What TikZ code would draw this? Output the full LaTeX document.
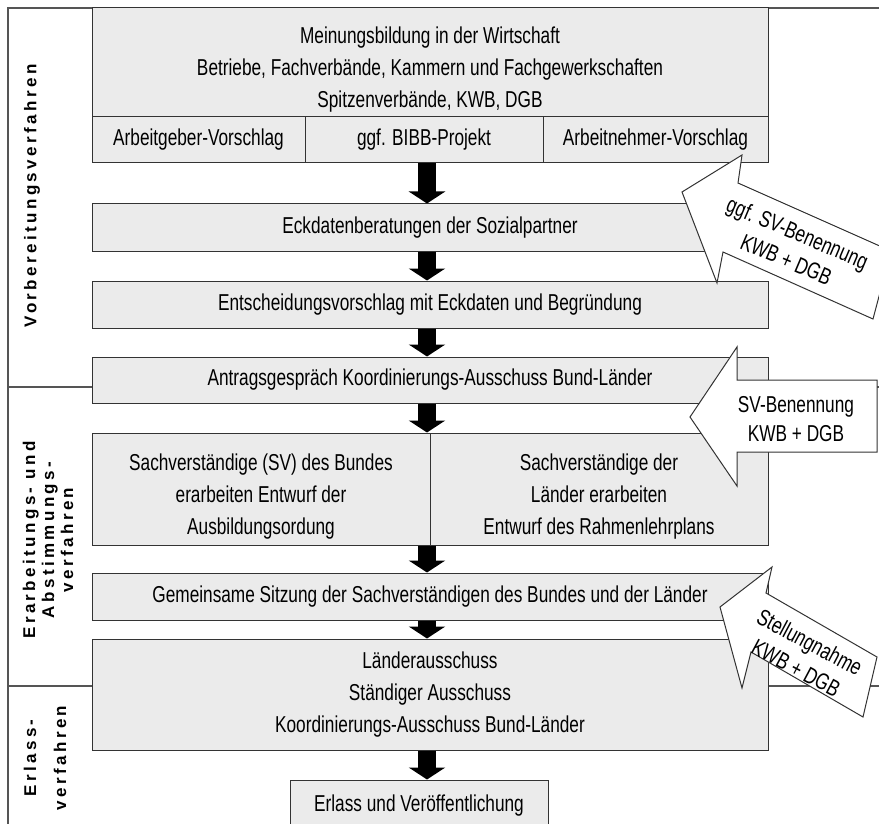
\documentclass[tikz,border=0pt]{standalone}
\usepackage{fontspec}
\setmainfont{Liberation Sans}[FakeStretch=0.75]
\newfontfamily\lblfont{Liberation Sans}[LetterSpace=20]
\usetikzlibrary{arrows.meta}
\definecolor{boxfill}{HTML}{EBEBEB}
\definecolor{boxline}{HTML}{333333}
\definecolor{frameline}{HTML}{555555}
\newcommand{\topstrut}[1]{\rule{0pt}{#1}}
\begin{document}
\begin{tikzpicture}[x=1pt,y=-1pt,
  box/.style={draw=boxline,fill=boxfill,line width=1pt,inner sep=0pt,align=center,
    font=\fontsize{23}{32}\selectfont},
  lbl/.style={font=\lblfont\bfseries\fontsize{17}{19}\selectfont,rotate=90,align=center,inner sep=0pt},
  blk/.style={line width=18pt,draw=black,-{Triangle[width=36pt,length=12pt]}},
  callarr/.style={draw=boxline,fill=white,line width=1pt,line join=miter},
  calltxt/.style={align=center,inner sep=0pt,font=\fontsize{23}{29}\selectfont},
  frame/.style={draw=frameline,line width=1.2pt}]
\useasboundingbox (0,0) rectangle (879,824);
\clip (0,0) rectangle (879,824);
% frame
\draw[frame] (8,830) -- (8,8) -- (879,8);
\draw[frame] (8,387) -- (879,387);
\draw[frame] (8,686) -- (879,686);
% left labels
\node[lbl] (l1) at (32,196) {Vorbereitungsverfahren};
\node[lbl] (l2) at (48,540) {Erarbeitungs- und\\Abstimmungs-\\verfahren};
\node[lbl,font=\lblfont\bfseries\fontsize{17}{30}\selectfont] (l3) at (45,758) {Erlass-\\verfahren};
% boxes
\node[box,minimum width=676pt,minimum height=109pt] (hdr) at (430,62.5)
  {\topstrut{31pt}Meinungsbildung in der Wirtschaft\\Betriebe, Fachverbände, Kammern und Fachgewerkschaften\\Spitzenverbände, KWB, DGB};
\node[box,minimum width=213pt,minimum height=46pt] (s1) at (198.5,140) {Arbeitgeber-Vorschlag};
\node[box,minimum width=238pt,minimum height=46pt] (s2) at (424,140) {ggf. BIBB-Projekt};
\node[box,minimum width=225pt,minimum height=46pt] (s3) at (655.5,140) {Arbeitnehmer-Vorschlag};
\node[box,minimum width=676pt,minimum height=47pt] (eck) at (430,227.5) {Eckdatenberatungen der Sozialpartner};
\node[box,minimum width=676pt,minimum height=47pt] (ent) at (430,304.5) {Entscheidungsvorschlag mit Eckdaten und Begründung};
\node[box,minimum width=676pt,minimum height=46pt] (ant) at (430,380) {Antragsgespräch Koordinierungs-Ausschuss Bund-Länder};
\node[box,minimum width=338pt,minimum height=112pt] (sl) at (261,489)
  {\topstrut{32pt}Sachverständige (SV) des Bundes\\erarbeiten Entwurf der\\Ausbildungsordung};
\node[box,minimum width=338pt,minimum height=112pt] (sr) at (599,489)
  {\topstrut{32pt}Sachverständige der\\Länder erarbeiten\\Entwurf des Rahmenlehrplans};
\node[box,minimum width=676pt,minimum height=47pt] (gem) at (430,596.5)
  {Gemeinsame Sitzung der Sachverständigen des Bundes und der Länder};
\node[box,minimum width=676pt,minimum height=111pt] (lae) at (430,694.5)
  {Länderausschuss\\Ständiger Ausschuss\\Koordinierungs-Ausschuss Bund-Länder};
\node[box,minimum width=258pt,minimum height=52pt] (erl) at (419,806) {Erlass und Veröffentlichung};
% down arrows
\coordinate (ax) at (427,0);
\draw[blk] (s2.south -| ax) -- (eck.north -| ax);
\draw[blk] (eck.south -| ax) -- (ent.north -| ax);
\draw[blk] (ent.south -| ax) -- (ant.north -| ax);
\draw[blk] (ant.south -| ax) -- (sr.north -| ax);
\draw[blk] (sl.south -| ax) -- (gem.north -| ax);
\draw[blk] (gem.south -| ax) -- (lae.north -| ax);
\draw[blk] (lae.south -| ax) -- (erl.north -| ax);
% right callout arrows
\draw[callarr] (742,155) -- (682,192) -- (717,283) -- (723,252) -- (873,319) -- (891,251) -- (738,183) -- cycle;
\node[calltxt,rotate=-23] (ta) at (792,246) {ggf. SV-Benennung\\KWB + DGB};
\draw[callarr] (690,417) -- (737,347) -- (737,380) -- (877,380) -- (877,452) -- (737,452) -- (737,486) -- cycle;
\node[calltxt] (tb) at (796,419) {SV-Benennung\\KWB + DGB};
\draw[callarr] (772,567) -- (720,607) -- (742,688) -- (751,652) -- (863,717) -- (877,657) -- (766,593) -- cycle;
\node[calltxt,rotate=-28] (tc) at (803,655) {Stellungnahme\\KWB + DGB};
\end{tikzpicture}
\end{document}
